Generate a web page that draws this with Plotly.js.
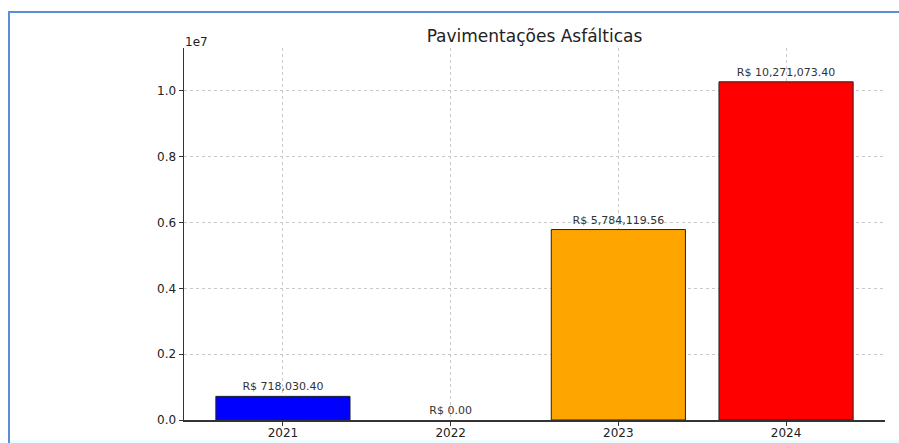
<!DOCTYPE html>
<html>
<head>
<meta charset="utf-8">
<script src="https://cdn.plot.ly/plotly-3.0.1.min.js"></script>
<style>
html,body{margin:0;padding:0;background:#fff;}
#frame{position:absolute;left:8px;top:11px;width:891px;height:432px;border-left:2px solid #5a8ed6;border-top:2px solid #5a8ed6;box-sizing:border-box;pointer-events:none;z-index:5;}
#strip{position:absolute;left:10px;top:440px;width:889px;height:3px;background:#eefafd;z-index:4;}
#chart{position:absolute;left:0;top:0;width:899px;height:443px;}
</style>
</head>
<body>
<div id="chart"></div>
<div id="frame"></div>
<div id="strip"></div>
<script>
const years = ['2021', '2022', '2023', '2024'];
const values = [718030.40, 0.00, 5784119.56, 10271073.40];
const labels = ['R$ 718,030.40', 'R$ 0.00', 'R$ 5,784,119.56', 'R$ 10,271,073.40'];
const barColors = ['#0000ff', '#008000', '#ffa500', '#ff0000'];
const yTickVals = [0, 2000000, 4000000, 6000000, 8000000, 10000000];
const yTickText = ['0.0', '0.2', '0.4', '0.6', '0.8', '1.0'];
const titleText = 'Pavimentações Asfálticas';

const font = 'DejaVu Sans, sans-serif';
const maxV = Math.max(...values);

const trace = {
  type: 'bar',
  x: years,
  y: values,
  width: 0.8,
  marker: {color: barColors, line: {color: '#222', width: values.map(v => v > 0 ? 1 : 0)}},
  text: labels,
  textposition: 'outside',
  cliponaxis: false,
  constraintext: 'none',
  textfont: {family: font, size: 11, color: '#333'},
  hoverinfo: 'none'
};

const layout = {
  width: 899, height: 443,
  margin: {l: 184, r: 14, t: 48, b: 23, pad: 0},
  paper_bgcolor: '#fff', plot_bgcolor: '#fff',
  showlegend: false,
  title: {text: titleText, x: 0.5945, xanchor: 'center', y: 0.918, yanchor: 'middle',
          font: {family: font, size: 17, color: '#222'}},
  bargap: 0.2,
  xaxis: {
    type: 'category', range: [-0.59, 3.59],
    showgrid: true, gridcolor: '#c8c8c8', griddash: 'dot', gridwidth: 1,
    showline: true, linecolor: '#333', linewidth: 1.5,
    ticks: 'outside', ticklen: 4, tickcolor: '#333',
    ticklabelstandoff: -3,
    tickfont: {family: font, size: 12, color: '#222'},
    zeroline: false, fixedrange: true
  },
  yaxis: {
    range: [0, maxV * 1.1],
    tickvals: yTickVals, ticktext: yTickText,
    showgrid: true, gridcolor: '#c8c8c8', griddash: 'dot', gridwidth: 1,
    showline: true, linecolor: '#333', linewidth: 1.5,
    ticks: 'outside', ticklen: 4, tickcolor: '#333',
    tickfont: {family: font, size: 12, color: '#222'},
    zeroline: false, fixedrange: true
  },
  annotations: [{
    xref: 'paper', yref: 'paper', x: 0, y: 1, xanchor: 'left', yanchor: 'bottom',
    text: '1e7', showarrow: false, xshift: -1, yshift: -3,
    font: {family: font, size: 12, color: '#222'}
  }]
};

Plotly.newPlot('chart', [trace], layout, {staticPlot: true, displayModeBar: false});
</script>
</body>
</html>
